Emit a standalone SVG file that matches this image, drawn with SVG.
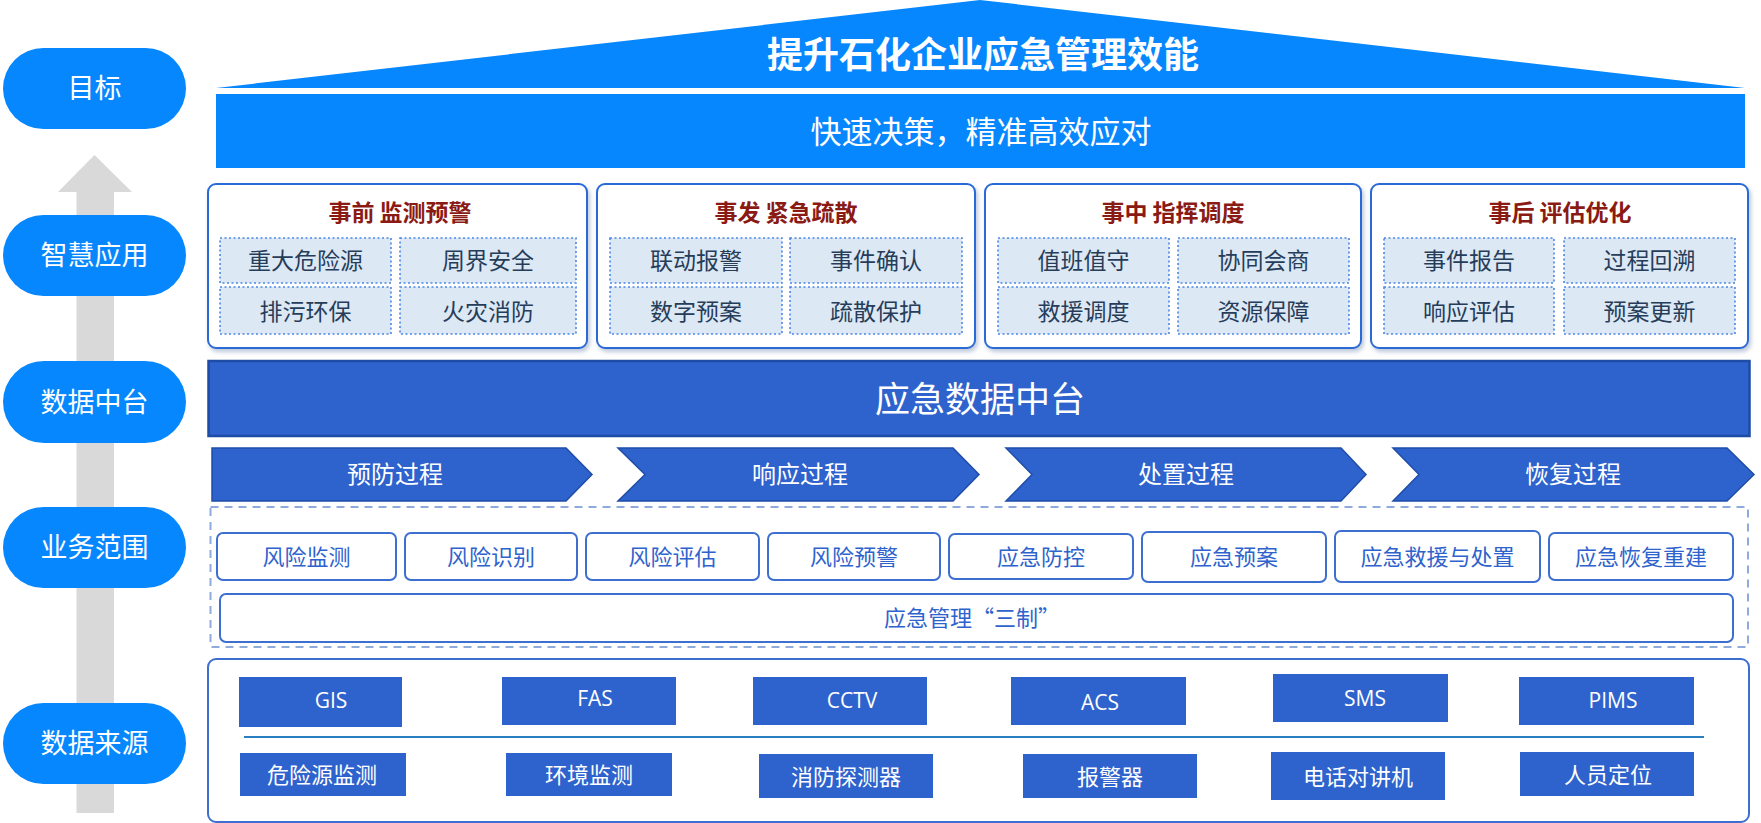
<svg xmlns="http://www.w3.org/2000/svg" width="1761" height="823" viewBox="0 0 1761 823">
<defs>
<filter id="sh" x="-5%" y="-10%" width="110%" height="125%">
<feDropShadow dx="2" dy="3" stdDeviation="2" flood-color="#6f84ad" flood-opacity="0.45"/>
</filter>
<style>
.cjk{font-family:"Noto Sans CJK SC","Microsoft YaHei",sans-serif;}
.lat{font-family:"Open Sans","Noto Sans CJK SC",sans-serif;}
.pill{fill:#0787FE;}
.pilltxt{fill:#fff;font-size:27px;text-anchor:middle;}
.card{fill:#fff;stroke:#2A6BD6;stroke-width:2;}
.ctitle{fill:#8A1A14;font-size:23px;font-weight:bold;text-anchor:middle;}
.cell{fill:#DDE8F5;stroke:#4A86E8;stroke-width:1.6;stroke-dasharray:2 2.5;}
.celltxt{fill:#263D5A;font-size:23px;text-anchor:middle;}
.dark{fill:#2E63CD;}
.chev{fill:#2E63CD;stroke:#1F4DA8;stroke-width:1.5;}
.wtxt{fill:#fff;text-anchor:middle;}
.biz{fill:#fff;stroke:#3D6FD0;stroke-width:2;}
.biztxt{fill:#2E63CD;font-size:22px;text-anchor:middle;}
</style>
</defs>

<g id="data-sources">
<rect x="208" y="659" width="1541" height="163" rx="8" fill="#fff" stroke="#3D6FD0" stroke-width="2"/>
</g>

<g id="connectors">
<polygon points="94.5,155 132,192 114,192 114,813 76.5,813 76.5,192 58,192" fill="#D9D9D9"/>
<line x1="244" y1="737" x2="1704" y2="737" stroke="#2A7FC0" stroke-width="2"/>
</g>

<g id="pill-goal"><rect class="pill" x="3" y="48" width="183" height="81" rx="40.5"/><text class="cjk pilltxt" x="94.5" y="98">目标</text></g>
<g id="pill-app"><rect class="pill" x="3" y="215" width="183" height="81" rx="40.5"/><text class="cjk pilltxt" x="94.5" y="265">智慧应用</text></g>
<g id="pill-platform"><rect class="pill" x="3" y="361" width="183" height="82" rx="41"/><text class="cjk pilltxt" x="94.5" y="411.5">数据中台</text></g>
<g id="pill-biz"><rect class="pill" x="3" y="507" width="183" height="81" rx="40.5"/><text class="cjk pilltxt" x="94.5" y="557">业务范围</text></g>
<g id="pill-source"><rect class="pill" x="3" y="703" width="183" height="81" rx="40.5"/><text class="cjk pilltxt" x="94.5" y="753">数据来源</text></g>

<g id="roof">
<polygon points="216,88 980,0 1745,88" fill="#0787FE"/>
<text class="cjk" x="983" y="68" fill="#fff" font-size="36" font-weight="bold" text-anchor="middle">提升石化企业应急管理效能</text>
</g>
<g id="goal-bar">
<rect x="216" y="94" width="1529" height="74" fill="#0787FE"/>
<text class="cjk" x="981" y="143" fill="#fff" font-size="31" text-anchor="middle">快速决策，精准高效应对</text>
</g>

<g id="card-before">
<rect class="card" filter="url(#sh)" x="208" y="184" width="379" height="164" rx="8"/>
<text class="cjk ctitle" x="400" y="221">事前 监测预警</text>
<rect class="cell" x="220" y="238" width="171" height="45"/><text class="cjk celltxt" x="305.5" y="268.5">重大危险源</text>
<rect class="cell" x="400" y="238" width="176" height="45"/><text class="cjk celltxt" x="488" y="268.5">周界安全</text>
<rect class="cell" x="220" y="287" width="171" height="47"/><text class="cjk celltxt" x="305.5" y="320">排污环保</text>
<rect class="cell" x="400" y="287" width="176" height="47"/><text class="cjk celltxt" x="488" y="320">火灾消防</text>
</g>
<g id="card-onset">
<rect class="card" filter="url(#sh)" x="597" y="184" width="378" height="164" rx="8"/>
<text class="cjk ctitle" x="786" y="221">事发 紧急疏散</text>
<rect class="cell" x="610" y="238" width="172" height="45"/><text class="cjk celltxt" x="696" y="268.5">联动报警</text>
<rect class="cell" x="790" y="238" width="172" height="45"/><text class="cjk celltxt" x="876" y="268.5">事件确认</text>
<rect class="cell" x="610" y="287" width="172" height="47"/><text class="cjk celltxt" x="696" y="320">数字预案</text>
<rect class="cell" x="790" y="287" width="172" height="47"/><text class="cjk celltxt" x="876" y="320">疏散保护</text>
</g>
<g id="card-during">
<rect class="card" filter="url(#sh)" x="985" y="184" width="376" height="164" rx="8"/>
<text class="cjk ctitle" x="1173" y="221">事中 指挥调度</text>
<rect class="cell" x="998" y="238" width="171" height="45"/><text class="cjk celltxt" x="1083.5" y="268.5">值班值守</text>
<rect class="cell" x="1178" y="238" width="171" height="45"/><text class="cjk celltxt" x="1263.5" y="268.5">协同会商</text>
<rect class="cell" x="998" y="287" width="171" height="47"/><text class="cjk celltxt" x="1083.5" y="320">救援调度</text>
<rect class="cell" x="1178" y="287" width="171" height="47"/><text class="cjk celltxt" x="1263.5" y="320">资源保障</text>
</g>
<g id="card-after">
<rect class="card" filter="url(#sh)" x="1371" y="184" width="377" height="164" rx="8"/>
<text class="cjk ctitle" x="1560" y="221">事后 评估优化</text>
<rect class="cell" x="1384" y="238" width="170" height="45"/><text class="cjk celltxt" x="1469" y="268.5">事件报告</text>
<rect class="cell" x="1564" y="238" width="171" height="45"/><text class="cjk celltxt" x="1649.5" y="268.5">过程回溯</text>
<rect class="cell" x="1384" y="287" width="170" height="47"/><text class="cjk celltxt" x="1469" y="320">响应评估</text>
<rect class="cell" x="1564" y="287" width="171" height="47"/><text class="cjk celltxt" x="1649.5" y="320">预案更新</text>
</g>

<g id="data-platform">
<rect x="208.5" y="361" width="1541" height="75" fill="#2E63CD" stroke="#1D4BA5" stroke-width="2.5"/>
<text class="cjk wtxt" x="980" y="412" font-size="35">应急数据中台</text>
</g>

<g id="proc-prevent"><path class="chev" d="M212,448 L566,448 L592,474.5 L566,501 L212,501 Z"/><text class="cjk wtxt" x="395" y="483" font-size="24">预防过程</text></g>
<g id="proc-response"><path class="chev" d="M618,448 L953,448 L979,474.5 L953,501 L618,501 L645,474.5 Z"/><text class="cjk wtxt" x="800" y="483" font-size="24">响应过程</text></g>
<g id="proc-handle"><path class="chev" d="M1006,448 L1341,448 L1366,474.5 L1341,501 L1006,501 L1032,474.5 Z"/><text class="cjk wtxt" x="1186" y="483" font-size="24">处置过程</text></g>
<g id="proc-recover"><path class="chev" d="M1393,448 L1727,448 L1754,474.5 L1727,501 L1393,501 L1419,474.5 Z"/><text class="cjk wtxt" x="1573" y="483" font-size="24">恢复过程</text></g>

<g id="biz-range">
<rect x="210.5" y="507" width="1537.5" height="140" fill="none" stroke="#8FAADC" stroke-width="2" stroke-dasharray="8 6"/>
</g>
<g id="biz-1"><rect class="biz" x="217" y="533" width="179" height="47" rx="6"/><text class="cjk biztxt" x="306.5" y="565">风险监测</text></g>
<g id="biz-2"><rect class="biz" x="405" y="533" width="172" height="47" rx="6"/><text class="cjk biztxt" x="491" y="565">风险识别</text></g>
<g id="biz-3"><rect class="biz" x="586" y="533" width="173" height="47" rx="6"/><text class="cjk biztxt" x="672.5" y="565">风险评估</text></g>
<g id="biz-4"><rect class="biz" x="768" y="533" width="172" height="47" rx="6"/><text class="cjk biztxt" x="854" y="565">风险预警</text></g>
<g id="biz-5"><rect class="biz" x="949" y="534" width="184" height="45" rx="6"/><text class="cjk biztxt" x="1041" y="565">应急防控</text></g>
<g id="biz-6"><rect class="biz" x="1142" y="532" width="184" height="50" rx="6"/><text class="cjk biztxt" x="1234" y="565">应急预案</text></g>
<g id="biz-7"><rect class="biz" x="1335" y="531" width="205" height="51" rx="6"/><text class="cjk biztxt" x="1437.5" y="565">应急救援与处置</text></g>
<g id="biz-8"><rect class="biz" x="1549" y="533" width="184" height="47" rx="6"/><text class="cjk biztxt" x="1641" y="565">应急恢复重建</text></g>
<g id="biz-system"><rect class="biz" x="220" y="594" width="1513" height="48" rx="6"/><text class="cjk biztxt" x="972" y="626" font-size="21">应急管理“三制”</text></g>

<g id="src-gis"><rect class="dark" x="239" y="677" width="163" height="50"/><text class="lat wtxt" x="331" y="708" font-size="21">GIS</text></g>
<g id="src-fas"><rect class="dark" x="502" y="677" width="174" height="48"/><text class="lat wtxt" x="595" y="705.5" font-size="21">FAS</text></g>
<g id="src-cctv"><rect class="dark" x="753" y="677" width="174" height="48"/><text class="lat wtxt" x="852" y="707.5" font-size="21">CCTV</text></g>
<g id="src-acs"><rect class="dark" x="1011" y="677" width="175" height="48"/><text class="lat wtxt" x="1100" y="710" font-size="21">ACS</text></g>
<g id="src-sms"><rect class="dark" x="1273" y="674" width="175" height="48"/><text class="lat wtxt" x="1365" y="705.5" font-size="21">SMS</text></g>
<g id="src-pims"><rect class="dark" x="1519" y="677" width="175" height="48"/><text class="lat wtxt" x="1613" y="708" font-size="21">PIMS</text></g>
<g id="src-hazard"><rect class="dark" x="240" y="753" width="166" height="43"/><text class="cjk wtxt" x="322" y="783" font-size="22">危险源监测</text></g>
<g id="src-env"><rect class="dark" x="506" y="753" width="166" height="43"/><text class="cjk wtxt" x="589" y="783" font-size="22">环境监测</text></g>
<g id="src-fire"><rect class="dark" x="759" y="754" width="174" height="44"/><text class="cjk wtxt" x="846" y="784.5" font-size="22">消防探测器</text></g>
<g id="src-alarm"><rect class="dark" x="1023" y="754" width="174" height="44"/><text class="cjk wtxt" x="1110" y="784.5" font-size="22">报警器</text></g>
<g id="src-phone"><rect class="dark" x="1271" y="752" width="174" height="48"/><text class="cjk wtxt" x="1358" y="784.5" font-size="22">电话对讲机</text></g>
<g id="src-person"><rect class="dark" x="1520" y="752" width="174" height="44"/><text class="cjk wtxt" x="1608" y="782.5" font-size="22">人员定位</text></g>
</svg>
